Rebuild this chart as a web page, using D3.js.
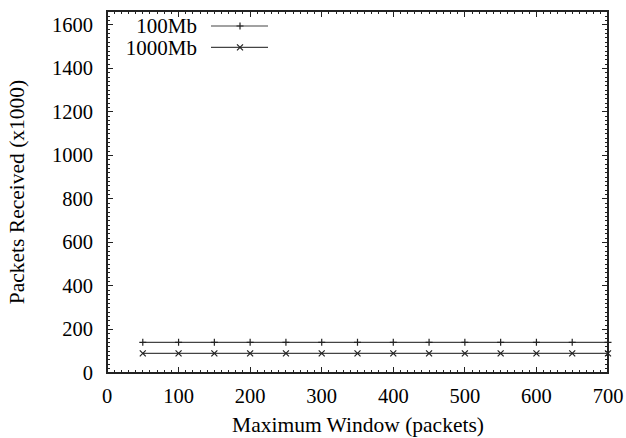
<!DOCTYPE html>
<html>
<head>
<meta charset="utf-8">
<script src="https://cdn.jsdelivr.net/npm/d3@7"></script>
<style>
  body { margin: 0; background: #fff; }
</style>
</head>
<body>
<svg id="plot" width="626" height="438"></svg>
<script>
// series data
var windows = [50, 100, 150, 200, 250, 300, 350, 400, 450, 500, 550, 600, 650, 700];
var recv100 = [141, 141, 141, 141, 141, 141, 141, 141, 141, 141, 141, 141, 141, 141];
var recv1000 = [90, 90, 90, 90, 90, 90, 90, 90, 90, 90, 90, 90, 90, 90];
var seriesNames = ["100Mb", "1000Mb"];
var xTicks = [0, 100, 200, 300, 400, 500, 600, 700];
var yTicks = [0, 200, 400, 600, 800, 1000, 1200, 1400, 1600];

var font = "'Liberation Serif', 'Times New Roman', Times, 'DejaVu Serif', serif";

var svg = d3.select("#plot"),
    margin = {top: 11, right: 18, bottom: 65, left: 107},
    width = 626 - margin.left - margin.right,
    height = 438 - margin.top - margin.bottom,
    g = svg.append("g").attr("transform", "translate(" + margin.left + "," + margin.top + ")");

var x = d3.scaleLinear().domain([0, 700]).range([0, width]);
var y = d3.scaleLinear().domain([0, 1664]).range([height, 0]);

var ink = "#222";

// minor + major ticks, drawn inward on all four sides
var xMinor = d3.range(0, 701, 10);
var yMinor = d3.range(0, 1661, 20);

function tickLines(sel, vals, len, horiz, atEdge, dir) {
  sel.selectAll(null).data(vals).enter().append("line")
    .attr("x1", function(d) { return horiz ? x(d) : atEdge; })
    .attr("x2", function(d) { return horiz ? x(d) : atEdge + dir * len; })
    .attr("y1", function(d) { return horiz ? atEdge : y(d); })
    .attr("y2", function(d) { return horiz ? atEdge + dir * len : y(d); })
    .attr("stroke", ink).attr("stroke-width", 1);
}

var ticks = g.append("g").attr("shape-rendering", "crispEdges");
tickLines(ticks, xMinor, 3, true, height, -1);
tickLines(ticks, xMinor, 3, true, 0, 1);
tickLines(ticks, xTicks, 6, true, height, -1);
tickLines(ticks, xTicks, 6, true, 0, 1);
tickLines(ticks, yMinor, 3, false, 0, 1);
tickLines(ticks, yMinor, 3, false, width, -1);
tickLines(ticks, yTicks, 6, false, 0, 1);
tickLines(ticks, yTicks, 6, false, width, -1);

g.append("rect")
  .attr("x", 0).attr("y", 0)
  .attr("width", width).attr("height", height)
  .attr("fill", "none").attr("stroke", ink).attr("stroke-width", 1.2)
  .attr("shape-rendering", "crispEdges");

function label(sel, size) {
  return sel.attr("font-family", font).attr("font-size", size).attr("fill", "#000");
}

// tick labels
label(g.selectAll(".xlab").data(xTicks).enter().append("text"), "20.5px")
  .attr("x", function(d) { return x(d); })
  .attr("y", height + 29.5)
  .attr("text-anchor", "middle")
  .text(function(d) { return d; });

label(g.selectAll(".ylab").data(yTicks).enter().append("text"), "20.5px")
  .attr("x", -14)
  .attr("y", function(d) { return y(d) + 7; })
  .attr("text-anchor", "end")
  .text(function(d) { return d; });

// axis titles
label(svg.append("text"), "21.5px")
  .attr("x", 358)
  .attr("y", 432)
  .attr("text-anchor", "middle")
  .text("Maximum Window (packets)");

label(svg.append("text"), "21.5px")
  .attr("transform", "translate(24,192) rotate(-90)")
  .attr("text-anchor", "middle")
  .text("Packets Received (x1000)");

// series
var line = d3.line()
  .x(function(d, i) { return x(windows[i]); })
  .y(function(d) { return y(d); });

var allSeries = [recv100, recv1000];
var markers = ["plus", "cross"];

function drawMarker(sel, type, cx, cy) {
  var s = 3.5;
  if (type == "plus") {
    sel.append("path").attr("d", "M" + (cx - s) + "," + cy + "H" + (cx + s) + "M" + cx + "," + (cy - s) + "V" + (cy + s));
  } else {
    var t = 3;
    sel.append("path").attr("d", "M" + (cx - t) + "," + (cy - t) + "L" + (cx + t) + "," + (cy + t) + "M" + (cx - t) + "," + (cy + t) + "L" + (cx + t) + "," + (cy - t));
  }
}

allSeries.forEach(function(vals, k) {
  g.append("path")
    .datum(vals)
    .attr("d", line)
    .attr("fill", "none")
    .attr("stroke", "#444")
    .attr("stroke-width", 1.2);
  var mk = g.append("g").attr("stroke", ink).attr("stroke-width", 1.2).attr("fill", "none");
  vals.forEach(function(v, i) {
    drawMarker(mk, markers[k], x(windows[i]), y(v));
  });
});

// legend
var legend = svg.append("g");
seriesNames.forEach(function(name, k) {
  var ly = 26 + k * 21.3;
  label(legend.append("text"), "21px")
    .attr("x", 197).attr("y", ly + 7.2)
    .attr("text-anchor", "end")
    .text(name);
  legend.append("line")
    .attr("x1", 211).attr("x2", 268)
    .attr("y1", ly).attr("y2", ly)
    .attr("stroke", "#444").attr("stroke-width", 1.2);
  var mk = legend.append("g").attr("stroke", ink).attr("stroke-width", 1.2).attr("fill", "none");
  drawMarker(mk, markers[k], 240, ly);
});
</script>
</body>
</html>
